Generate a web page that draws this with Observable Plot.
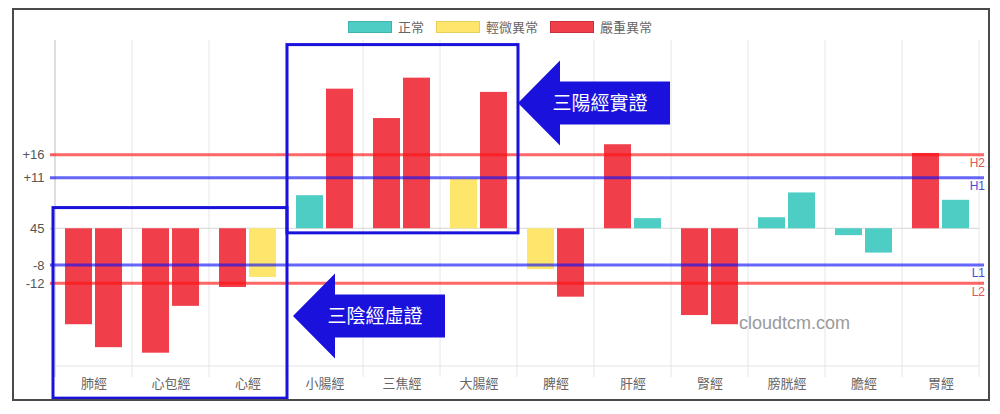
<!DOCTYPE html>
<html>
<head>
<meta charset="utf-8">
<script src="https://cdn.jsdelivr.net/npm/d3@7"></script>
<script src="https://cdn.jsdelivr.net/npm/@observablehq/plot@0.6"></script>
<style>
  body { margin: 0; background: #fff; font-family: "Liberation Sans", "Noto Sans CJK TC", sans-serif; }
  #wrap { position: relative; width: 1000px; height: 414px; overflow: hidden; }
  #legend { height: 40px; display: flex; justify-content: center; align-items: flex-start; box-sizing: border-box; padding-top: 20px; font-size: 13px; color: #666; font-family: "Noto Sans CJK TC", sans-serif; }
  .item { display: flex; align-items: center; margin: 0 6px; line-height: 14px; }
  .swatch { width: 42px; height: 10px; margin-right: 6px; border: 1px solid; }
  #frame { position: absolute; left: 12px; top: 8px; width: 978px; height: 393px; box-sizing: border-box; border: 2px solid #4a4a4a; pointer-events: none; }
  #chart svg { display: block; }
</style>
</head>
<body>
<div id="wrap">
  <div id="legend"></div>
  <div id="chart"></div>
  <div id="frame"></div>
</div>
<script>
const FONT = '"Liberation Sans", "Noto Sans CJK TC", sans-serif';

// ---- data ----
const categories = ["肺經","心包經","心經","小腸經","三焦經","大腸經","脾經","肝經","腎經","膀胱經","膽經","胃經"];
const leftValues  = [-20.9, -27.1, -12.8,  7.2, 24.0, 10.8, -8.9, 18.3, -18.9, 2.4, -1.5, 16.4];
const rightValues = [-25.9, -16.9, -10.6, 30.4, 32.8, 29.7, -14.9, 2.2, -20.9, 7.8, -5.3, 6.2];
const leftLevels  = ["嚴重異常","嚴重異常","嚴重異常","正常","嚴重異常","輕微異常","輕微異常","嚴重異常","嚴重異常","正常","正常","嚴重異常"];
const rightLevels = ["嚴重異常","嚴重異常","輕微異常","嚴重異常","嚴重異常","嚴重異常","嚴重異常","正常","嚴重異常","正常","正常","正常"];
const levelNames  = ["正常","輕微異常","嚴重異常"];
const levelColors = ["#4ecdc4","#fde66b","#f03e4b"];
const levelBorders = ["#3fb3ab","#e8cf55","#c8303c"];

const yTicks      = [16, 11, 0, -8, -12];
const yTickLabels = ["+16", "+11", "45", "-8", "-12"];

const refValues = [16, 11, -8, -12];
const refLabels = ["H2", "H1", "L1", "L2"];
const refColors = ["rgba(255,20,20,0.65)", "rgba(20,20,245,0.65)", "rgba(20,20,245,0.65)", "rgba(255,20,20,0.65)"];
const refTextColors = ["#e0555a", "#4a4ad8", "#4a4ad8", "#e0555a"];

// annotation boxes: category span and value span, arrow label
const annoLabels = ["三陽經實證", "三陰經虛證"];
const annoFrom   = ["小腸經", "肺經"];
const annoTo     = ["大腸經", "心經"];
const annoTop    = [40, 4.5];
const annoBottom = [-1, -37];
const annoArrowY = [27.3, -19.1];
const annoGap    = [0, 6];

const watermark = "cloudtcm.com";

// ---- legend ----
const legend = document.getElementById("legend");
levelNames.forEach((n, i) => {
  const it = document.createElement("div");
  it.className = "item";
  const sw = document.createElement("span");
  sw.className = "swatch";
  sw.style.background = levelColors[i];
  sw.style.borderColor = levelBorders[i];
  const tx = document.createElement("span");
  tx.textContent = n;
  it.appendChild(sw); it.appendChild(tx);
  legend.appendChild(it);
});

// ---- chart ----
const rows = [];
categories.forEach((c, i) => {
  rows.push({cat: c, slot: 0, value: leftValues[i], level: leftLevels[i]});
  rows.push({cat: c, slot: 1, value: rightValues[i], level: rightLevels[i]});
});

const plot = Plot.plot({
  width: 1000, height: 374,
  marginTop: 0, marginBottom: 48, marginLeft: 52, marginRight: 18,
  style: {fontFamily: FONT, fontSize: "13px", color: "#666", background: "transparent", overflow: "visible"},
  fx: {domain: categories, padding: 0, axis: "bottom", label: null, tickSize: 0, tickPadding: 12},
  x: {domain: [0, 1], paddingInner: 0.1, paddingOuter: 0.3, axis: null},
  y: {domain: [-30, 41], ticks: yTicks, tickFormat: d => yTickLabels[yTicks.indexOf(d)], tickSize: 5, tickPadding: 6, label: null},
  color: {domain: levelNames, range: levelColors},
  marks: [
    Plot.barY(rows, {fx: "cat", x: "slot", y: "value", fill: "level"})
  ]
});
document.getElementById("chart").appendChild(plot);

const svg = d3.select(plot);
const fx = plot.scale("fx");
const y = plot.scale("y");
const fxA = v => fx.apply(v);
const yA = v => y.apply(v);
const bw = fx.bandwidth;
const left = fxA(categories[0]);
const right = fxA(categories[categories.length - 1]) + bw;
const y0 = yA(-30);

svg.selectAll('[aria-label="y-axis tick"] path, [aria-label="y-axis tick"] line').attr("stroke", "#c8c8c8");
svg.selectAll('[aria-label="y-axis tick label"] text, [aria-label="y-axis tick label"]').attr("fill", "#555");

// grid (beneath bars)
const grid = svg.insert("g", ":first-child");
const edges = categories.map(c => fxA(c)).concat([right]);
edges.forEach((x, i) => {
  grid.append("line").attr("x1", x).attr("x2", x).attr("y1", 0).attr("y2", y0 + 11)
    .attr("stroke", i === 0 ? "#bdbdbd" : "#e6e6e6").attr("stroke-width", 1);
});
grid.append("line").attr("x1", left).attr("x2", right).attr("y1", y0).attr("y2", y0).attr("stroke", "#e3e3e3");
grid.append("line").attr("x1", left - 5).attr("x2", right).attr("y1", yA(0)).attr("y2", yA(0)).attr("stroke", "#d6d6d6");

// reference lines
const over = svg.append("g");
refValues.forEach((v, i) => {
  over.append("line").attr("x1", left - 5).attr("x2", right + 5)
    .attr("y1", yA(v)).attr("y2", yA(v))
    .attr("stroke", refColors[i]).attr("stroke-width", 3);
  over.append("text").attr("x", right + 6).attr("y", yA(v) + 8).attr("dy", "0.35em")
    .attr("text-anchor", "end").attr("font-size", 12).attr("fill", refTextColors[i])
    .attr("font-family", FONT).text(refLabels[i]);
});

// watermark
over.append("text").attr("x", fxA("膀胱經") - 9).attr("y", yA(-20.6)).attr("dy", "0.35em")
  .attr("text-anchor", "start")
  .attr("font-size", 18).attr("fill", "#9a9a9a").attr("font-family", FONT).text(watermark);

// annotations
const BLUE = "#1a12dc";
annoLabels.forEach((lab, i) => {
  const x1 = fxA(annoFrom[i]) + (i === 1 ? -2 : 1), x2 = fxA(annoTo[i]) + bw + 1;
  const t = yA(annoTop[i]), b = yA(annoBottom[i]);
  over.append("rect").attr("x", x1).attr("y", t).attr("width", x2 - x1).attr("height", b - t)
    .attr("fill", "none").attr("stroke", BLUE).attr("stroke-width", 3);
  const tx = x2 + annoGap[i], ty = yA(annoArrowY[i]);
  const pts = [[0,0],[42,-42.5],[42,-21.5],[152,-21.5],[152,21.5],[42,21.5],[42,42.5]]
    .map(p => [tx + p[0], ty + p[1]].join(",")).join(" ");
  over.append("polygon").attr("points", pts).attr("fill", BLUE);
  over.append("text").attr("x", tx + 82).attr("y", ty).attr("dy", "0.36em")
    .attr("text-anchor", "middle").attr("fill", "#fff").attr("font-size", 19)
    .attr("font-family", '"Noto Sans CJK TC", sans-serif').text(lab);
});
</script>
</body>
</html>
